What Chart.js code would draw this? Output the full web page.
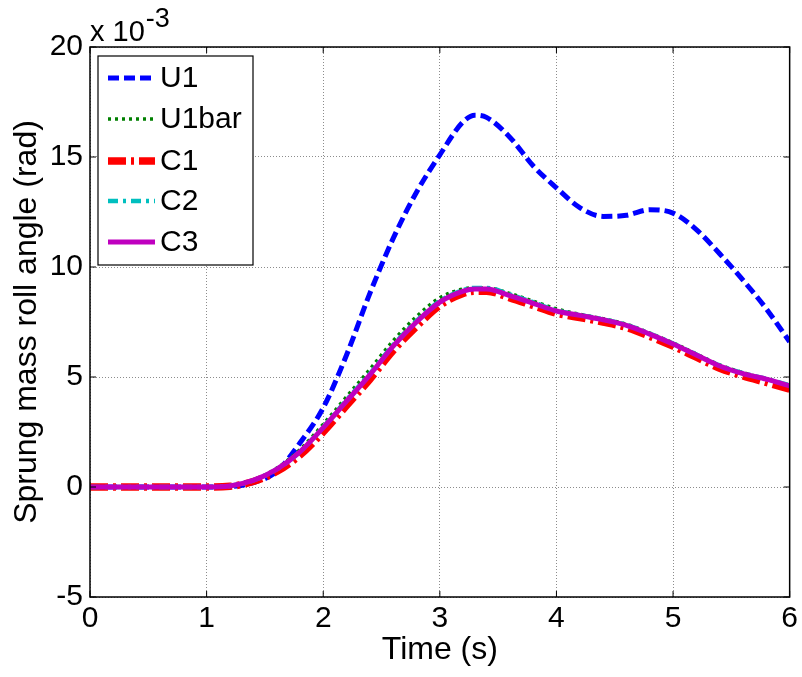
<!DOCTYPE html>
<html>
<head>
<meta charset="utf-8">
<script src="https://cdn.jsdelivr.net/npm/chart.js@4.4.1/dist/chart.umd.min.js"></script>
<style>
  html, body { margin: 0; padding: 0; background: #fff; }
  #wrap { width: 802px; height: 677px; position: relative; }
</style>
</head>
<body>
<div id="wrap"><canvas id="c" width="802" height="677"></canvas></div>
<script>
// Time (s)
const times = [0, 0.5, 1, 1.2, 1.4, 1.6, 1.8, 2, 2.2, 2.4, 2.6, 2.8, 3, 3.2, 3.3, 3.4, 3.6, 3.8, 4, 4.2, 4.4, 4.6, 4.8, 5, 5.2, 5.4, 5.6, 5.8, 6];
// Sprung mass roll angle, in units of 10^-3 rad
const u1    = [0, 0, 0, 0.02, 0.2, 0.7, 2.0, 3.6, 6.0, 8.8, 11.3, 13.4, 15.1, 16.6, 16.9, 16.8, 15.9, 14.6, 13.6, 12.7, 12.3, 12.35, 12.6, 12.45, 11.7, 10.6, 9.4, 8.1, 6.6];
const u1bar = [0, 0, 0, 0.05, 0.32, 0.85, 1.7, 2.85, 4.1, 5.35, 6.65, 7.75, 8.6, 9.0, 9.05, 9.05, 8.8, 8.45, 8.1, 7.85, 7.65, 7.4, 7.0, 6.55, 6.05, 5.55, 5.2, 4.9, 4.6];
const c1    = [0, 0, 0, 0.03, 0.25, 0.7, 1.45, 2.5, 3.7, 4.9, 6.2, 7.3, 8.25, 8.8, 8.9, 8.9, 8.6, 8.25, 7.9, 7.7, 7.5, 7.25, 6.85, 6.4, 5.9, 5.4, 5.05, 4.75, 4.45];
const c2    = [0, 0, 0, 0.05, 0.3, 0.8, 1.6, 2.72, 3.95, 5.15, 6.45, 7.55, 8.45, 8.95, 9.05, 9.05, 8.75, 8.4, 8.02, 7.82, 7.62, 7.37, 6.97, 6.52, 6.02, 5.52, 5.17, 4.92, 4.62];
const c3    = [0, 0, 0, 0.05, 0.3, 0.8, 1.6, 2.7, 3.9, 5.1, 6.4, 7.5, 8.4, 8.9, 9.0, 9.0, 8.7, 8.35, 8.0, 7.8, 7.6, 7.35, 6.95, 6.5, 6.0, 5.5, 5.15, 4.9, 4.6];
const seriesNames = ['U1', 'U1bar', 'C1', 'C2', 'C3'];
const xTicks = [0, 1, 2, 3, 4, 5, 6];
const yTicks = [-5, 0, 5, 10, 15, 20];
const xTitle = 'Time (s)';
const yTitle = 'Sprung mass roll angle (rad)';
const exponentBase = 'x 10';
const exponentPower = '-3';

const FONT = '"Liberation Sans", Arial, Helvetica, sans-serif';
const toPts = arr => times.map((t, i) => ({ x: t, y: arr[i] }));

const styles = [
  { color: 'rgb(0,0,255)',   width: 5,   dash: [11, 5] },
  { color: 'rgb(0,128,0)',   width: 3.5, dash: [3, 4] },
  { color: 'rgb(255,0,0)',   width: 7.5, dash: [18, 5, 3, 5] },
  { color: 'rgb(0,191,191)', width: 4.5, dash: [10, 5, 3, 5] },
  { color: 'rgb(191,0,191)', width: 5,   dash: [] }
];
const seriesData = [u1, u1bar, c1, c2, c3];

const datasets = seriesData.map((arr, i) => ({
  label: seriesNames[i],
  data: toPts(arr),
  borderColor: styles[i].color,
  borderWidth: styles[i].width,
  borderDash: styles[i].dash,
  borderCapStyle: 'butt',
  pointRadius: 0,
  fill: false,
  cubicInterpolationMode: 'monotone',
  order: 5 - i
}));

const framePlugin = {
  id: 'frame',
  afterDatasetsDraw(chart) {
    const { ctx, chartArea: a, scales } = chart;
    ctx.save();
    ctx.strokeStyle = '#000';
    ctx.lineWidth = 1.5;
    ctx.setLineDash([]);
    ctx.strokeRect(a.left, a.top, a.right - a.left, a.bottom - a.top);
    ctx.lineWidth = 1;
    const tl = 6;
    xTicks.forEach(v => {
      const x = scales.x.getPixelForValue(v);
      ctx.beginPath();
      ctx.moveTo(x, a.bottom); ctx.lineTo(x, a.bottom - tl);
      ctx.moveTo(x, a.top); ctx.lineTo(x, a.top + tl);
      ctx.stroke();
    });
    yTicks.forEach(v => {
      const y = scales.y.getPixelForValue(v);
      ctx.beginPath();
      ctx.moveTo(a.left, y); ctx.lineTo(a.left + tl, y);
      ctx.moveTo(a.right, y); ctx.lineTo(a.right - tl, y);
      ctx.stroke();
    });
    // legend box
    const lx = a.left + 8, ly = a.top + 9, lw = 155, lh = 209;
    ctx.fillStyle = '#fff';
    ctx.fillRect(lx, ly, lw, lh);
    ctx.strokeStyle = '#000';
    ctx.lineWidth = 1.2;
    ctx.strokeRect(lx, ly, lw, lh);
    const rowY = [78, 119, 161, 201, 242];
    chart.data.datasets.forEach((ds, i) => {
      const y = rowY[i];
      ctx.beginPath();
      ctx.strokeStyle = ds.borderColor;
      ctx.lineWidth = ds.borderWidth;
      ctx.setLineDash(ds.borderDash);
      ctx.lineCap = 'butt';
      ctx.moveTo(108, y); ctx.lineTo(155, y);
      ctx.stroke();
      ctx.setLineDash([]);
      ctx.fillStyle = '#000';
      ctx.font = '30px ' + FONT;
      ctx.textAlign = 'left';
      ctx.textBaseline = 'middle';
      ctx.fillText(ds.label, 160, y + 1);
    });
    // exponent label
    ctx.fillStyle = '#000';
    ctx.textBaseline = 'alphabetic';
    ctx.font = '29px ' + FONT;
    ctx.fillText(exponentBase, 90, 41);
    const w = ctx.measureText(exponentBase).width;
    ctx.font = '27px ' + FONT;
    ctx.fillText(exponentPower, 90 + w + 1, 27);
    ctx.restore();
  }
};

new Chart(document.getElementById('c'), {
  type: 'line',
  data: { datasets },
  options: {
    responsive: false,
    animation: false,
    layout: { padding: { top: 47, right: 12, left: 0, bottom: 0 } },
    plugins: { legend: { display: false }, tooltip: { enabled: false } },
    scales: {
      x: {
        type: 'linear', min: 0, max: 6,
        afterBuildTicks: s => { s.ticks = xTicks.map(v => ({ value: v })); },
        afterFit: s => { s.height = 80; },
        grid: { color: '#8c8c8c', lineWidth: 1, drawTicks: false },
        border: { display: false, dash: [1, 2] },
        ticks: { color: '#000', font: { family: FONT, size: 30 }, padding: 4, maxRotation: 0 },
        title: { display: true, text: xTitle, color: '#000', font: { family: FONT, size: 32 }, padding: { top: 0, bottom: 8 } }
      },
      y: {
        type: 'linear', min: -5, max: 20,
        afterBuildTicks: s => { s.ticks = yTicks.map(v => ({ value: v })); },
        afterFit: s => { s.width = 90; },
        grid: { color: '#8c8c8c', lineWidth: 1, drawTicks: false },
        border: { display: false, dash: [1, 2] },
        ticks: { color: '#000', font: { family: FONT, size: 30 }, padding: 7 },
        title: { display: true, text: yTitle, color: '#000', font: { family: FONT, size: 32 }, padding: { top: 8, bottom: 0 } }
      }
    }
  },
  plugins: [framePlugin]
});
</script>
</body>
</html>
